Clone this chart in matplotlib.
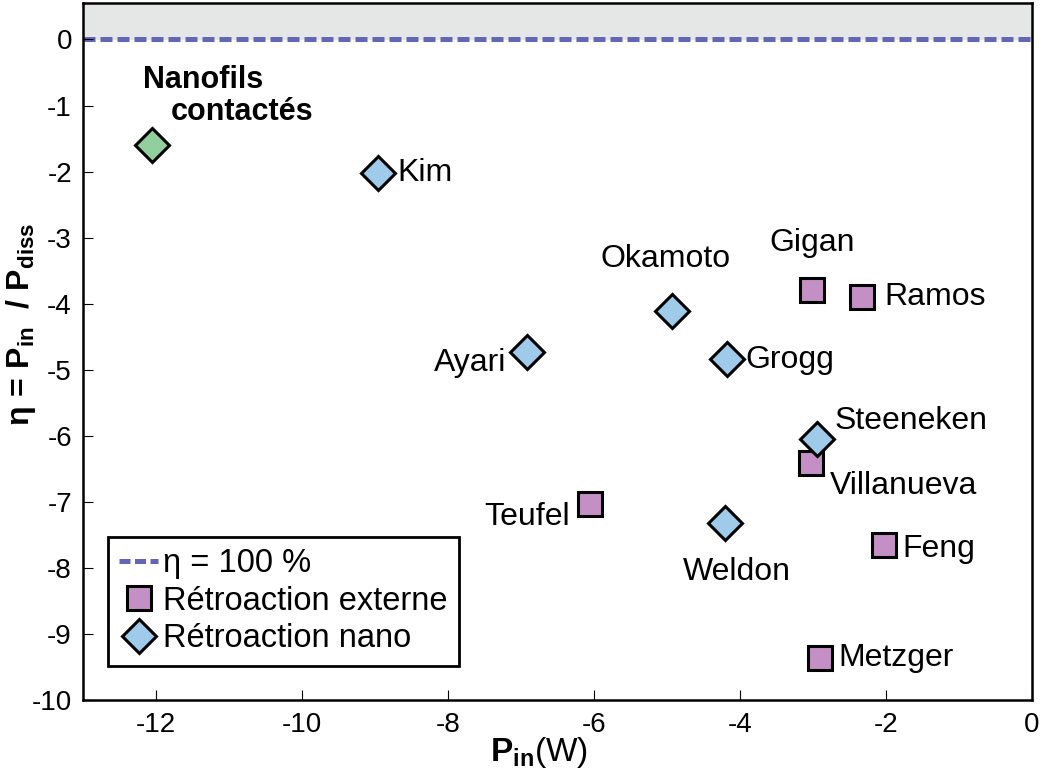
import matplotlib
matplotlib.use("Agg")
import matplotlib.pyplot as plt
from matplotlib.lines import Line2D

plt.rcParams['font.family'] = ['Liberation Sans', 'DejaVu Sans']
plt.rcParams['mathtext.fontset'] = 'custom'
plt.rcParams['mathtext.rm'] = 'Liberation Sans'
plt.rcParams['mathtext.bf'] = 'Liberation Sans:bold'
plt.rcParams['mathtext.it'] = 'Liberation Sans:italic'

# Rétroaction externe (carrés)
ext_noms = ["Gigan", "Ramos", "Villanueva", "Teufel", "Feng", "Metzger"]
ext_pin = [-3.01, -2.33, -3.03, -6.05, -2.03, -2.90]
ext_eta = [-3.79, -3.90, -6.40, -7.03, -7.65, -9.36]

# Rétroaction nano (losanges)
nano_noms = ["Kim", "Okamoto", "Ayari", "Grogg", "Steeneken", "Weldon"]
nano_pin = [-8.96, -4.93, -6.92, -4.18, -2.95, -4.21]
nano_eta = [-2.02, -4.11, -4.73, -4.83, -6.04, -7.31]

# Nanofils contactés
nf_pin = [-12.05]
nf_eta = [-1.60]

xticks = [-12, -10, -8, -6, -4, -2, 0]
yticks = [0, -1, -2, -3, -4, -5, -6, -7, -8, -9, -10]

# décalage des étiquettes (px) et alignement
ext_offsets = {"Gigan": (0, 47, 'center'), "Ramos": (22, 0, 'left'),
               "Villanueva": (19, -23, 'left'), "Teufel": (-20, -13, 'right'),
               "Feng": (19, -4, 'left'), "Metzger": (18, 0, 'left')}
nano_offsets = {"Kim": (19, 0, 'left'), "Okamoto": (-7, 52, 'center'),
                "Ayari": (-21, -11, 'right'), "Grogg": (19, -1, 'left'),
                "Steeneken": (18, 18, 'left'), "Weldon": (12, -49, 'center')}

violet = '#c38fc4'
bleu = '#9fcaea'
vert = '#92cf9e'
tirets = '#6366b4'

fig = plt.figure(figsize=(10.42, 7.77), dpi=100)
ax = fig.add_axes([0.0797, 0.0985, 0.9107, 0.8975])

ax.axhspan(0, 0.55, color='#e5e6e6', zorder=0)
ax.axhline(0, color=tirets, lw=3.6, dashes=(2.4, 1.0), zorder=1)

ax.plot(ext_pin, ext_eta, 's', ms=17, mfc=violet, mec='black', mew=2.2,
        zorder=3)
ax.plot(nano_pin, nano_eta, 'D', ms=17.5, mfc=bleu, mec='black', mew=2.2,
        zorder=4)
ax.plot(nf_pin, nf_eta, 'D', ms=17.5, mfc=vert, mec='black', mew=2.2,
        zorder=4)

px = 0.72
for nom, x, y in zip(ext_noms, ext_pin, ext_eta):
    dx, dy, ha = ext_offsets[nom]
    ax.annotate(nom, (x, y), xytext=(dx * px, dy * px),
                textcoords='offset points', ha=ha, va='center', fontsize=23)
for nom, x, y in zip(nano_noms, nano_pin, nano_eta):
    dx, dy, ha = nano_offsets[nom]
    ax.annotate(nom, (x, y), xytext=(dx * px, dy * px),
                textcoords='offset points', ha=ha, va='center', fontsize=23)

ax.annotate("Nanofils", (nf_pin[0], nf_eta[0]), xytext=(-9 * px, 65 * px),
            textcoords='offset points', ha='left', va='center', fontsize=22,
            fontweight='bold')
ax.annotate("contactés", (nf_pin[0], nf_eta[0]), xytext=(18 * px, 33 * px),
            textcoords='offset points', ha='left', va='center', fontsize=22,
            fontweight='bold')

ax.set_xlim(-13, 0)
ax.set_ylim(-10, 0.55)
ax.set_xticks(xticks)
ax.set_yticks(yticks)
ax.set_xticklabels([str(t) for t in xticks])
ax.set_yticklabels([str(t) for t in yticks])
ax.tick_params(direction='in', length=7, width=0.8, labelsize=20, pad=8)

for s in ax.spines.values():
    s.set_linewidth(1.8)

ax.set_xlabel(r'$\mathbf{P}_{\mathbf{in}}$(W)', fontsize=24)
ax.xaxis.set_label_coords(0.48, -0.05)
ax.set_ylabel(r'$\mathbf{\eta\,=\,P_{in}}\ \ \mathbf{/\ P_{diss}}$',
              fontsize=23)
ax.yaxis.set_label_coords(-0.047, 0.54)

handles = [
    Line2D([], [], color=tirets, lw=3.6, dashes=(2.2, 0.9)),
    Line2D([], [], marker='s', ls='none', ms=17, mfc=violet, mec='black',
           mew=2.2),
    Line2D([], [], marker='D', ls='none', ms=17.5, mfc=bleu, mec='black',
           mew=2.2),
]
labels = ['\u03b7 = 100 %', 'Rétroaction externe', 'Rétroaction nano']
leg = ax.legend(handles, labels, loc='lower left',
                bbox_to_anchor=(0.026, 0.05), borderaxespad=0,
                fontsize=23.5, frameon=True, fancybox=False,
                edgecolor='black', handlelength=1.2, handletextpad=0.15,
                labelspacing=0.2, borderpad=0.35, framealpha=1)
leg.get_frame().set_linewidth(2)

fig.savefig('out.png', dpi=100)
